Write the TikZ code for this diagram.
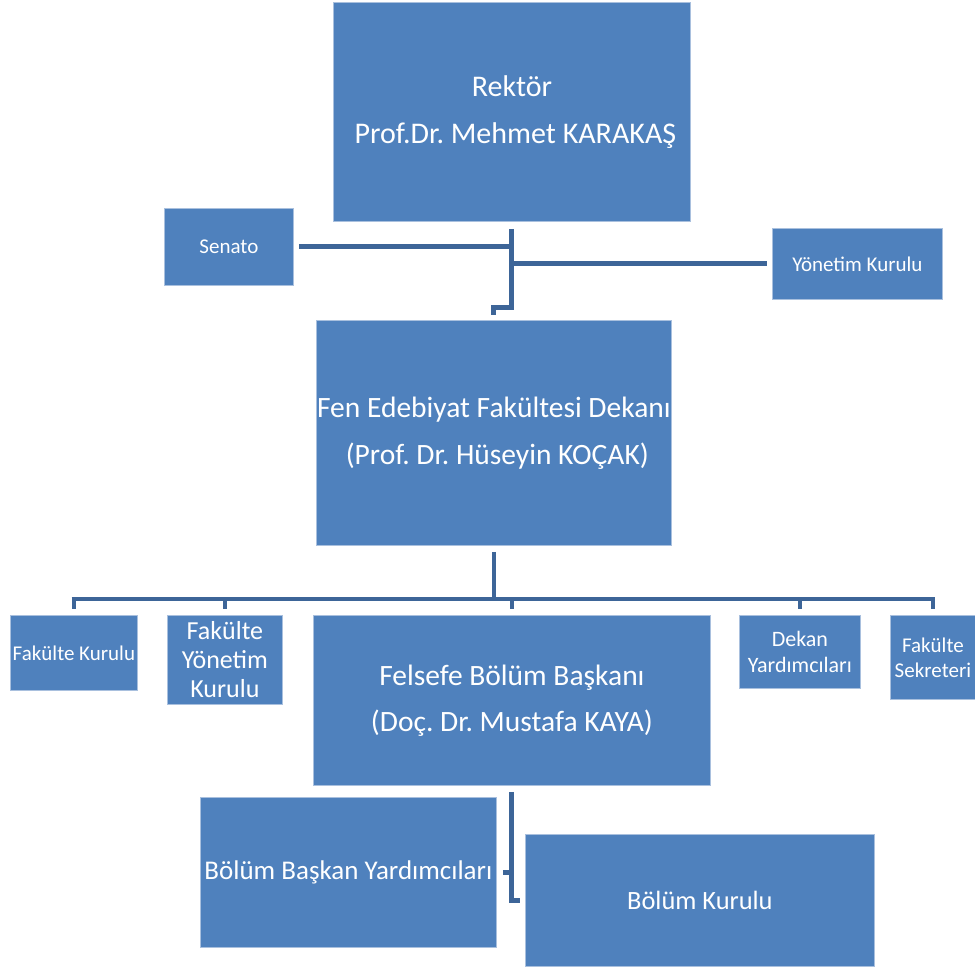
\documentclass[tikz,border=0pt]{standalone}
\usepackage{fontspec}
\setmainfont{Carlito}
\usetikzlibrary{calc}
\definecolor{boxblue}{HTML}{4F81BD}
\definecolor{boxedge}{HTML}{A9C0DE}
\definecolor{linkblue}{HTML}{3D6598}
\tikzset{
  orgbox/.style={rectangle, fill=boxblue, draw=boxedge, line width=0.8pt, inner sep=0pt,
     anchor=north west, text=white, align=center},
  conn/.style={draw=linkblue, line width=5pt},
  connthin/.style={draw=linkblue, line width=4.5pt}
}
\frenchspacing
\begin{document}
\begin{tikzpicture}[x=1pt,y=-1pt]
\useasboundingbox (0,0) rectangle (975,972);
% boxes
\node[orgbox, minimum width=357pt, minimum height=219pt, font=\fontsize{30}{47}\selectfont] (rektor) at (333,2)
  {Rektör\\ \hspace*{0.23em}Prof.Dr. Mehmet KARAKAŞ};
\node[orgbox, minimum width=129pt, minimum height=77pt, font=\fontsize{21}{26}\selectfont] (senato) at (164,208) {Senato};
\node[orgbox, minimum width=170pt, minimum height=71pt, font=\fontsize{21}{26}\selectfont] (yonetim) at (772,228) {Yönetim Kurulu};
\node[orgbox, minimum width=355pt, minimum height=225pt, font=\fontsize{29.5}{47}\selectfont] (dekan) at (316,320)
  {Fen Edebiyat Fakültesi Dekanı\\ \hspace*{0.23em}(Prof. Dr. Hüseyin KOÇAK)};
\node[orgbox, minimum width=127pt, minimum height=75pt, font=\fontsize{21}{26}\selectfont] (fk) at (10,615) {Fakülte Kurulu};
\node[orgbox, minimum width=115pt, minimum height=89pt, font=\fontsize{26}{29}\selectfont] (fyk) at (167,615) {Fakülte\\Yönetim\\Kurulu};
\node[orgbox, minimum width=397pt, minimum height=170pt, font=\fontsize{29.5}{46}\selectfont] (felsefe) at (313,615)
  {Felsefe Bölüm Başkanı\\(Doç. Dr. Mustafa KAYA)};
\node[orgbox, minimum width=121pt, minimum height=73pt, font=\fontsize{22}{26}\selectfont] (dy) at (739,615) {Dekan\\Yardımcıları};
\node[orgbox, minimum width=85pt, minimum height=84pt, font=\fontsize{21}{25}\selectfont] (fs) at (890,615) {Fakülte\\Sekreteri};
\node[orgbox, minimum width=296pt, minimum height=150pt, font=\fontsize{27}{32}\selectfont] (bby) at (200,797) {Bölüm Başkan Yardımcıları};
\node[orgbox, minimum width=349pt, minimum height=132pt, font=\fontsize{26.4}{32}\selectfont] (bk) at (525,834) {Bölüm Kurulu};
% upper connectors
\draw[conn] ($(rektor.south)+(0,7)$) |- ($(dekan.north)+(0,-13)$) -- ($(dekan.north)+(0,-5)$);
\draw[conn] ($(senato.east)+(5,0)$) -- (rektor.south |- senato.east);
\draw[conn] (rektor.south |- yonetim.west) -- ($(yonetim.west)+(-5,0)$);
% middle connectors
\coordinate (bar) at (0,599);
\draw[connthin] ($(dekan.south)+(0,6)$) -- (dekan.south |- bar);
\draw[connthin] ($(fk.north |- bar)+(-2.25,0)$) -- ($(fs.north |- bar)+(2.25,0)$);
\foreach \c in {fk,fyk,felsefe,dy,fs}{
  \draw[connthin] (\c.north |- bar) -- ($(\c.north)+(0,-6)$);
}
% lower connectors
\draw[conn] ($(felsefe.south)+(0,6)$) -- (felsefe.south |- bk.west) -- ($(bk.west)+(-5,0)$);
\draw[conn] ($(bby.east)+(6,0)$) -- (felsefe.south |- bby.east);
\end{tikzpicture}
\end{document}
